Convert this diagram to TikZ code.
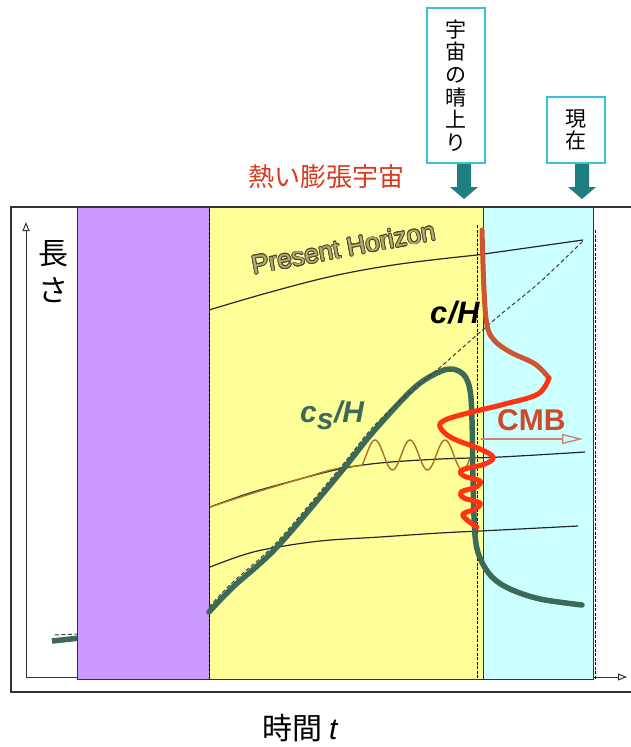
\documentclass[tikz,border=0pt]{standalone}
\usepackage{fontspec}
\setmainfont{Liberation Sans}
\newfontfamily\jp{Noto Sans CJK JP}
\usepackage{contour}
\contourlength{0.8pt}
\contournumber{12}
\usetikzlibrary{arrows.meta}
\definecolor{purpleF}{HTML}{CC99FF}
\definecolor{yellowF}{HTML}{FFFF99}
\definecolor{cyanF}{HTML}{CCFFFF}
\definecolor{boxcyan}{HTML}{3CBEDC}
\definecolor{tealA}{HTML}{1E7E80}
\definecolor{greenC}{HTML}{3D6A58}
\definecolor{redC}{HTML}{FF3311}
\definecolor{redUp}{HTML}{CD5530}
\definecolor{brownC}{HTML}{A8702C}
\definecolor{cmbC}{HTML}{CC4A28}
\definecolor{cmbArr}{HTML}{D08070}
\definecolor{jpred}{HTML}{D83A1E}
\definecolor{phfill}{HTML}{B4AC76}
\definecolor{phline}{HTML}{4A4628}
\definecolor{frameC}{HTML}{333333}
\tikzset{
  frameline/.style={draw=frameC, line width=1.3pt},
  axisline/.style={draw=frameC, line width=1pt, -{Triangle[open,width=7pt,length=9pt]}},
  band/.style={draw=frameC, line width=1pt},
  vdash/.style={draw=black, line width=1pt, dash pattern=on 3pt off 1.5pt},
  mode/.style={draw=black!85, line width=1.2pt},
  greenthick/.style={draw=greenC, line width=5.5pt, line cap=round, line join=round},
  cHdash/.style={draw=black!75, line width=1pt, dash pattern=on 4pt off 2.5pt},
  redthick/.style={draw=redC, line width=5pt, line cap=round, line join=round},
  jpbox/.style={draw=boxcyan, line width=2pt, fill=white, inner sep=0pt, align=center,
     minimum width=58pt, font=\jp\fontsize{21}{22.6}\selectfont},
  tealarrowshape/.style={fill=tealA},
}
\begin{document}
\begin{tikzpicture}[x=1pt,y=-1pt]
\useasboundingbox (0,0) rectangle (630,747);
% outer frame
\draw[frameline] (11,207) rectangle (650,692);
% axes
\coordinate (origin) at (26,677);
\coordinate (ytip) at (26,222);
\coordinate (xtip) at (627,677);
\draw[axisline] (origin) -- (ytip);
\draw[axisline] (origin) -- (xtip);
% small segment left
\draw[greenthick, line cap=butt] (52,641) -- (80,638);
\draw[cHdash] (55,635) -- (80,634);
% bands
\draw[band, fill=purpleF] (77,207) rectangle (209,679);
\draw[band, fill=yellowF] (209,207) rectangle (483,679);
\draw[band, fill=cyanF] (483,207) rectangle (593,679);
\draw[vdash] (209,209) -- (209,679);
\draw[vdash] (477,225) -- (477,679);
\draw[vdash] (595,230) -- (595,679);
% present horizon
\draw[mode] plot[smooth, tension=0.6] coordinates {(209,310) (267,293) (333,276) (400,264) (477,255)} -- (583,240);
% middle mode
\draw[mode] plot[smooth, tension=0.6] coordinates {(210,507) (250,493) (300,479) (340,469) (380,463) (440,459) (500,457) (585,452)};
% lower mode
\draw[mode] plot[smooth, tension=0.6] coordinates {(210,567) (240,556) (267,549) (320,541) (380,537) (440,533) (500,530) (578,526)};
% brown wave
\draw[draw=brownC, line width=1.4pt] plot[smooth, tension=0.6] coordinates {(210,507) (250,494) (300,479) (335,469) (362,465.4)}
  -- plot[domain=362:470, samples=90] (\x, {455-15*cos((\x-375)/35*360)});
% green cs/H
\draw[greenthick] plot[smooth, tension=0.55] coordinates {(209,612) (233,587) (277,547) (340,473) (373,432) (413,389) (437,373) (452,369) (464,375) (470,390) (472,420) (473,480) (475,535) (480,558) (492,577) (510,589) (540,599) (582,605)};
% dashed c/H
\draw[cHdash] plot[smooth, tension=0.55] coordinates {(209,607) (233,582) (277,542) (340,468) (373,427) (410,392) (437,370) (470,341) (500,315) (540,282) (583,241)};
% red CMB
\draw[redthick, draw=redUp] plot[smooth, tension=0.6] coordinates {(482,230) (484,290) (487,325) (494,340) (510,352) (535,364) (549,378)};
\draw[redthick] plot[smooth, tension=0.6] coordinates {(549,378) (538,394) (505,404) (468,413) (445,420) (440,427) (452,438) (480,449) (493,457) (485,464) (462,470) (464,476) (480,481) (476,487) (461,492) (464,498) (480,503) (475,509) (463,514) (467,520) (477,527)};
% CMB arrow
\coordinate (cmbS) at (481,439);
\coordinate (cmbE) at (583,439);
\draw[draw=cmbArr, line width=1.3pt, -{Triangle[open,width=10pt,length=21pt]}] (cmbS) -- (cmbE);
% labels
\node[anchor=base west, inner sep=0pt, text=cmbC, font=\bfseries\fontsize{30}{30}\selectfont] (cmb) at (497,430) {CMB};
\node[anchor=base west, inner sep=0pt, text=black, font=\bfseries\itshape\fontsize{31}{31}\selectfont] (cH) at (430,323) {c\kern1pt/H};
\node[anchor=base west, inner sep=0pt, text=greenC, font=\bfseries\itshape\fontsize{30}{30}\selectfont] (csH) at (300,422) {c$_{\textbf{\textit{s}}}$/H};
\node[anchor=base, inner sep=0pt, rotate=10.7, text=phfill, font=\fontsize{26}{26}\selectfont] (ph) at (345,257) {\contour{phline}{Present Horizon}};
\node[anchor=center, inner sep=0pt, align=center, font=\jp\fontsize{30}{37}\selectfont] (ylab) at (53,272) {長\\さ};
\node[anchor=center, inner sep=0pt, font=\jp\fontsize{30}{30}\selectfont] (xlab) at (300,728) {時間 {\fontspec{Liberation Sans}\itshape t}};
\node[anchor=center, inner sep=0pt, text=jpred, font=\jp\fontsize{26}{26}\selectfont] (hot) at (326,177) {熱い膨張宇宙};
% top boxes
\node[jpbox, minimum height=155pt] (b1) at (456,85.5) {宇\\宙\\の\\晴\\上\\り};
\node[jpbox, minimum height=66pt] (b2) at (576,130) {現\\在};
% teal arrows
\fill[tealarrowshape] ([xshift=1pt]b1.south) -- ++(14,0) -- ++(0,23) -- ++(7,0) -- ++(-14,12) -- ++(-14,-12) -- ++(7,0) -- cycle;
\fill[tealarrowshape] ([xshift=-1pt]b2.south) -- ++(14,0) -- ++(0,23) -- ++(7,0) -- ++(-14,12) -- ++(-14,-12) -- ++(7,0) -- cycle;
\end{tikzpicture}
\end{document}
